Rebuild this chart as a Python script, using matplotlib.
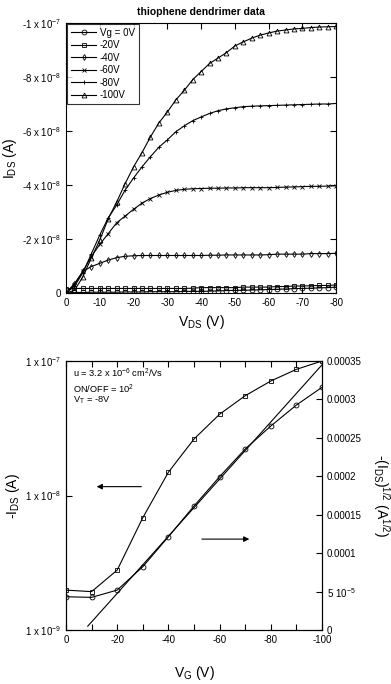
import matplotlib
matplotlib.use('Agg')
import matplotlib.pyplot as plt
import numpy as np

plt.rcParams['font.family'] = ['Liberation Sans', 'DejaVu Sans']
plt.rcParams['mathtext.fontset'] = 'custom'
plt.rcParams['mathtext.rm'] = 'Liberation Sans'
plt.rcParams['mathtext.it'] = 'Liberation Sans:italic'
plt.rcParams['mathtext.bf'] = 'Liberation Sans:bold'

# ---- output curves (I_DS in units of 1e-8 A) ----
vds = np.arange(0, -80.1, -2.5)
vg_labels = ['Vg = 0V', '-20V', '-40V', '-60V', '-80V', '-100V']
ids_0 = [0.0, -0.02, -0.02, -0.03, -0.03, -0.03, -0.03, -0.04, -0.04, -0.04, -0.05,
         -0.05, -0.05, -0.05, -0.06, -0.06, -0.06, -0.07, -0.08, -0.09, -0.1, -0.1,
         -0.11, -0.12, -0.13, -0.14, -0.15, -0.16, -0.17, -0.18, -0.19, -0.2, -0.22]
ids_20 = [-0.15, -0.17, -0.17, -0.17, -0.17, -0.17, -0.17, -0.17, -0.17, -0.17, -0.17,
          -0.17, -0.17, -0.17, -0.17, -0.18, -0.2, -0.2, -0.2, -0.2, -0.2, -0.22,
          -0.22, -0.22, -0.22, -0.24, -0.24, -0.26, -0.26, -0.27, -0.28, -0.28, -0.3]
ids_40 = [0, -0.35, -0.8, -0.98, -1.1, -1.22, -1.31, -1.36, -1.38, -1.39, -1.39,
          -1.39, -1.39, -1.39, -1.39, -1.39, -1.39, -1.4, -1.4, -1.41, -1.41, -1.41,
          -1.41, -1.41, -1.42, -1.44, -1.44, -1.44, -1.44, -1.46, -1.46, -1.46, -1.47]
ids_60 = [0, -0.3, -0.8, -1.35, -1.8, -2.2, -2.6, -2.85, -3.1, -3.33, -3.5,
          -3.63, -3.73, -3.8, -3.84, -3.86, -3.87, -3.88, -3.88, -3.89, -3.89, -3.9,
          -3.9, -3.9, -3.9, -3.91, -3.92, -3.93, -3.94, -3.95, -3.95, -3.96, -3.97]
ids_80 = [0, -0.25, -0.75, -1.45, -2.15, -2.78, -3.26, -3.81, -4.26, -4.67, -5.05,
          -5.4, -5.67, -5.97, -6.19, -6.38, -6.52, -6.65, -6.75, -6.82, -6.86, -6.9,
          -6.92, -6.93, -6.94, -6.95, -6.96, -6.97, -6.98, -6.99, -7.0, -7.0, -7.02]
ids_100 = [0, -0.1, -0.6, -1.3, -1.96, -2.75, -3.37, -4.05, -4.67, -5.2, -5.78,
           -6.3, -6.7, -7.15, -7.5, -7.9, -8.2, -8.5, -8.7, -8.9, -9.15, -9.3,
           -9.44, -9.55, -9.63, -9.7, -9.74, -9.78, -9.8, -9.83, -9.85, -9.86, -9.87]
markers = ['o', 's', 'd', 'x', '+', '^']

# ---- transfer curve ----
vg = [0, -10, -20, -30, -40, -50, -60, -70, -80, -90, -100]
ids_log = [1.98e-9, 1.93e-9, 2.79e-9, 6.84e-9, 1.49e-8, 2.63e-8, 4.02e-8,
           5.52e-8, 7.1e-8, 8.67e-8, 1.0e-7]
ids_sqrt = [4.33e-5, 4.25e-5, 5.2e-5, 8.24e-5, 1.214e-4, 1.613e-4, 1.995e-4,
            2.355e-4, 2.654e-4, 2.927e-4, 3.158e-4]
fit_vg = [-8.5, -100]
fit_sqrt = [5e-6, 3.45e-4]

fig = plt.figure(figsize=(3.91, 6.84), dpi=100)

# ---------------- top panel ----------------
ax1 = fig.add_axes([0.1688, 0.5716, 0.691, 0.3948])
series = [ids_0, ids_20, ids_40, ids_60, ids_80, ids_100]
for vals, m, lab in zip(series, markers, vg_labels):
    ax1.plot(vds, np.array(vals) * 1e-8, color='black', lw=0.8, marker=m,
             ms=3.5 if m != 'd' else 3, mfc='none', mec='black',
             mew=0.6, label=lab)
ax1.set_xlim(0, -80)
ax1.set_ylim(0, -1e-7)
ax1.set_xticks(np.arange(0, -81, -10))
ax1.set_xticklabels([str(v) for v in range(0, -81, -10)])
yt = [0, -2e-8, -4e-8, -6e-8, -8e-8, -1e-7]
ax1.set_yticks(yt)
ax1.set_yticklabels(['0', r'-2 x 10$^{-8}$', r'-4 x 10$^{-8}$', r'-6 x 10$^{-8}$',
                     r'-8 x 10$^{-8}$', r'-1 x 10$^{-7}$'])
ax1.tick_params(direction='in', top=True, right=True, labelsize=7, length=4,
                width=0.8)
ax1.set_xlabel(r'V$_{\mathrm{DS}}$ (V)', fontsize=10, labelpad=4)
ax1.set_ylabel(r'I$_{\mathrm{DS}}$ (A)', fontsize=10, labelpad=2)
ax1.set_title('thiophene dendrimer data', fontsize=7.5, fontweight='bold', pad=6)
leg = ax1.legend(loc='upper left', fontsize=7, frameon=True, fancybox=False,
                 edgecolor='black', handlelength=2.6, handletextpad=0.4,
                 labelspacing=0.25, borderpad=0.4, borderaxespad=0.1)
leg.get_frame().set_linewidth(0.8)

# ---------------- bottom panel ----------------
ax2 = fig.add_axes([0.1688, 0.0789, 0.6547, 0.3933])
ax2.plot(vg, ids_log, color='black', lw=0.8, marker='s', ms=3.5, mfc='none',
         mec='black', mew=0.6)
ax2.set_yscale('log')
ax2.set_ylim(1e-9, 1e-7)
ax2.set_xlim(0, -100)
ax2.set_yticks([1e-9, 1e-8, 1e-7])
ax2.set_yticklabels([r'1 x 10$^{-9}$', r'1 x 10$^{-8}$', r'1 x 10$^{-7}$'])
ax2.yaxis.set_minor_locator(matplotlib.ticker.NullLocator())
ax2.set_xticks(np.arange(0, -101, -10))
ax2.set_xticklabels([str(v) if v % 20 == 0 else '' for v in range(0, -101, -10)])
ax2.tick_params(direction='in', top=True, right=False, labelsize=7, length=4,
                width=0.8)
ax2.set_xlabel(r'V$_{\mathrm{G}}$ (V)', fontsize=10, labelpad=14)
ax2.set_ylabel(r'-I$_{\mathrm{DS}}$ (A)', fontsize=10, labelpad=2)

ax3 = ax2.twinx()
ax3.plot(vg, ids_sqrt, color='black', lw=0.8, marker='o', ms=3.5, mfc='none',
         mec='black', mew=0.6)
ax3.plot(fit_vg, fit_sqrt, color='black', lw=0.8)
ax3.set_ylim(0, 0.00035)
r_ticks = [0, 5e-5, 1e-4, 1.5e-4, 2e-4, 2.5e-4, 3e-4, 3.5e-4]
ax3.set_yticks(r_ticks)
ax3.set_yticklabels(['0', r'5 10$^{-5}$', '0.0001', '0.00015', '0.0002',
                     '0.00025', '0.0003', '0.00035'])
ax3.tick_params(direction='in', labelsize=7, length=4, width=0.8)
ax3.set_ylabel(r'-(I$_{\mathrm{DS}}$)$^{1/2}$ (A$^{1/2}$)', fontsize=10,
               rotation=270, labelpad=22)

for a in (ax1, ax2, ax3):
    for s in a.spines.values():
        s.set_linewidth(0.8)

ax2.annotate('', xy=(0.109, 0.533), xytext=(0.305, 0.533), xycoords='axes fraction',
             arrowprops=dict(arrowstyle='-|>', color='black', lw=0.8,
                             mutation_scale=8))
ax2.annotate('', xy=(0.727, 0.338), xytext=(0.520, 0.338), xycoords='axes fraction',
             arrowprops=dict(arrowstyle='-|>', color='black', lw=0.8,
                             mutation_scale=8))
ax2.text(0.027, 0.955, r'u = 3.2 x 10$^{-6}$ cm$^2$/Vs', transform=ax2.transAxes,
         fontsize=6.7, va='center')
ax2.text(0.027, 0.896, r'ON/OFF = 10$^2$', transform=ax2.transAxes,
         fontsize=6.7, va='center')
ax2.text(0.027, 0.855, r'V$_{\mathrm{T}}$ = -8V', transform=ax2.transAxes,
         fontsize=6.7, va='center')

fig.savefig('out.png', dpi=100)
